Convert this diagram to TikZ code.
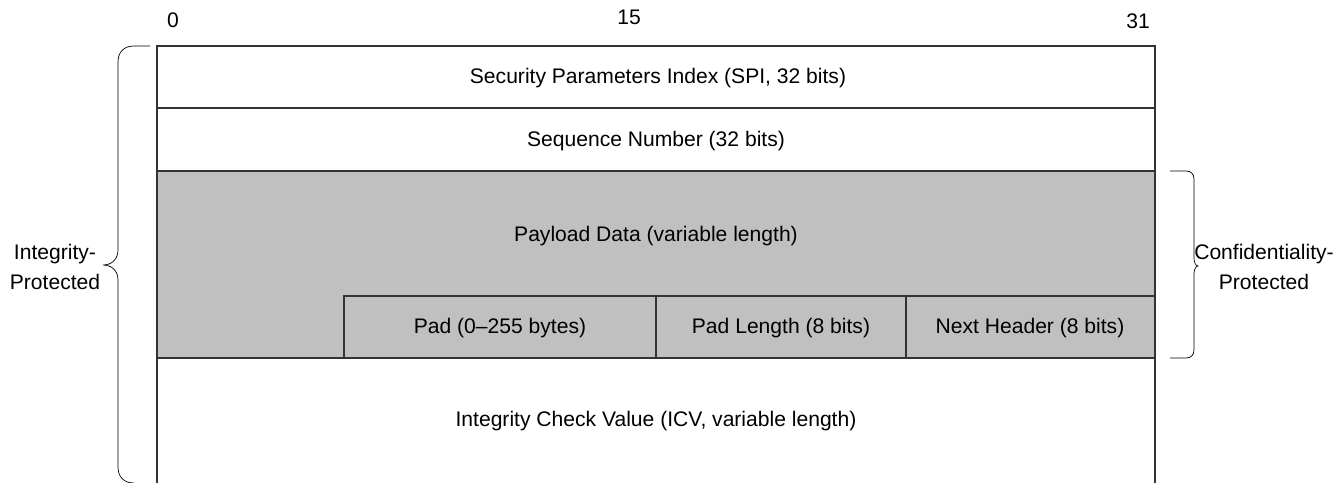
\documentclass[tikz,border=0pt]{standalone}
\usepackage{fontspec}
\setmainfont{Liberation Sans}
\usetikzlibrary{positioning}
\definecolor{espgray}{HTML}{C0C0C0}
\definecolor{espline}{HTML}{333333}

\begin{document}
\begin{tikzpicture}[x=0.02cm, y=-0.02cm, font=\fontsize{12}{14}\selectfont,
  field/.style={draw=espline, line width=0.7pt},
  lbl/.style={inner sep=0pt, align=center}]
  \useasboundingbox (0,0) rectangle (1343,483);
  % bit numbers
  \node[lbl] (b0) at (173,20) {0};
  \node[lbl] (b15) at (629,17) {15};
  \node[lbl] (b31) at (1138,21) {31};
  % encrypted part
  \fill[espgray] (157,171) rectangle (1155,358);
  \draw[field] (157,483) -- (157,46) -- (1155,46) -- (1155,483);
  \draw[field] (157,108) -- (1155,108);
  \draw[field] (157,171) -- (1155,171);
  \draw[field] (157,358) -- (1155,358);
  \draw[field] (344,358) -- (344,296) -- (1155,296);
  \draw[field] (656,296) -- (656,358);
  \draw[field] (906,296) -- (906,358);
  % field names
  \node[lbl] (spi) at (658,78) {Security Parameters Index (SPI, 32 bits)};
  \node[lbl] (seq) at (656,141) {Sequence Number (32 bits)};
  \node[lbl] (payload) at (656,236) {Payload Data (variable length)};
  \node[lbl] (pad) at (500,328) {Pad (0--255 bytes)};
  \node[lbl] (padlen) at (781,328) {Pad Length (8 bits)};
  \node[lbl] (nexthdr) at (1030,328) {Next Header (8 bits)};
  \node[lbl] (icv) at (656,421) {Integrity Check Value (ICV, variable length)};
  % braces
  \draw[thin] (150,46) -- (134,46) .. controls (124,46) and (118,52) .. (118,62)
    -- (118,250) .. controls (118,259) and (112,265) .. (103,265)
    .. controls (112,265) and (118,271) .. (118,280)
    -- (118,467) .. controls (118,477) and (124,483) .. (134,483);
  \draw[thin] (1170,171) -- (1186,171) .. controls (1191,171) and (1194,174) .. (1194,179)
    -- (1194,258) .. controls (1194,263) and (1196,266) .. (1198,266)
    .. controls (1196,266) and (1194,269) .. (1194,274)
    -- (1194,350) .. controls (1194,355) and (1191,358) .. (1186,358) -- (1170,358);
  \node[lbl] (integ) at (55,267) {Integrity-\\[3pt]Protected};
  \node[lbl] (conf) at (1264,267) {Confidentiality-\\[3pt]Protected};
\end{tikzpicture}
\end{document}
